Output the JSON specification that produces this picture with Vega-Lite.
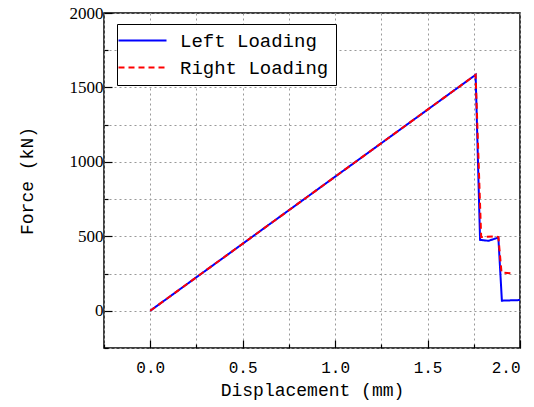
{
  "$schema": "https://vega.github.io/schema/vega-lite/v6.json",
  "autosize": "none",
  "width": 416,
  "height": 335,
  "padding": {"left": 104, "top": 13, "right": 14, "bottom": 59},
  "background": "white",
  "config": {
    "view": {"stroke": "black", "strokeWidth": 1.5},
    "axis": {
      "grid": true,
      "gridColor": "#999999",
      "gridDash": [2, 3],
      "gridWidth": 1,
      "domain": false,
      "tickColor": "black",
      "tickWidth": 1.2,
      "labelColor": "black",
      "titleColor": "black",
      "titleFontWeight": "normal"
    }
  },
  "data": {
    "values": [
      {"series": "Left Loading", "d": 0, "f": 0},
      {"series": "Left Loading", "d": 1.76, "f": 1585},
      {"series": "Left Loading", "d": 1.784, "f": 476},
      {"series": "Left Loading", "d": 1.83, "f": 470},
      {"series": "Left Loading", "d": 1.883, "f": 492},
      {"series": "Left Loading", "d": 1.902, "f": 68},
      {"series": "Left Loading", "d": 2.0, "f": 72},
      {"series": "Right Loading", "d": 0, "f": 0},
      {"series": "Right Loading", "d": 1.76, "f": 1585},
      {"series": "Right Loading", "d": 1.79, "f": 495},
      {"series": "Right Loading", "d": 1.86, "f": 500},
      {"series": "Right Loading", "d": 1.883, "f": 495},
      {"series": "Right Loading", "d": 1.90, "f": 258},
      {"series": "Right Loading", "d": 1.96, "f": 250}
    ]
  },
  "mark": {"type": "line", "strokeWidth": 2, "clip": true},
  "encoding": {
    "x": {
      "field": "d",
      "type": "quantitative",
      "scale": {"domain": [-0.25, 2.0], "nice": false, "zero": false},
      "axis": {
        "title": "Displacement (mm)",
        "titleFont": "Liberation Mono",
        "titleFontSize": 18,
        "titlePadding": 6,
        "values": [-0.25, 0, 0.25, 0.5, 0.75, 1, 1.25, 1.5, 1.75, 2],
        "labelExpr": "datum.value % 0.5 === 0 ? format(datum.value, '.1f') : ''",
        "labelFont": "Liberation Mono",
        "labelFontSize": 16,
        "labelPadding": 19,
        "tickSize": {"condition": {"test": "datum.value % 0.5 === 0", "value": -8}, "value": -4}
      }
    },
    "y": {
      "field": "f",
      "type": "quantitative",
      "scale": {"domain": [-250, 2000], "nice": false, "zero": false},
      "axis": {
        "title": "Force (kN)",
        "titleFont": "Liberation Mono",
        "titleFontSize": 18,
        "titlePadding": 33,
        "values": [-250, 0, 250, 500, 750, 1000, 1250, 1500, 1750, 2000],
        "labelExpr": "datum.value % 500 === 0 ? format(datum.value, 'd') : ''",
        "labelFont": "Liberation Serif",
        "labelFontSize": 17,
        "labelPadding": 9,
        "tickSize": {"condition": {"test": "datum.value % 500 === 0", "value": -8}, "value": -4}
      }
    },
    "color": {
      "field": "series",
      "type": "nominal",
      "scale": {"domain": ["Left Loading", "Right Loading"], "range": ["#0000ff", "#ff0000"]},
      "legend": {
        "title": null,
        "orient": "none",
        "legendX": 13,
        "legendY": 11,
        "fillColor": "white",
        "strokeColor": "black",
        "padding": 7,
        "labelFont": "Liberation Mono",
        "labelFontSize": 19,
        "labelColor": "black",
        "labelLimit": 400,
        "labelOffset": 28,
        "symbolType": "M-4,0H4",
        "symbolSize": 144,
        "symbolStrokeWidth": 2,
        "symbolOffset": 9,
        "rowPadding": 7
      }
    },
    "strokeDash": {
      "field": "series",
      "type": "nominal",
      "scale": {"domain": ["Left Loading", "Right Loading"], "range": [[1, 0], [6, 4]]},
      "legend": null
    }
  }
}
